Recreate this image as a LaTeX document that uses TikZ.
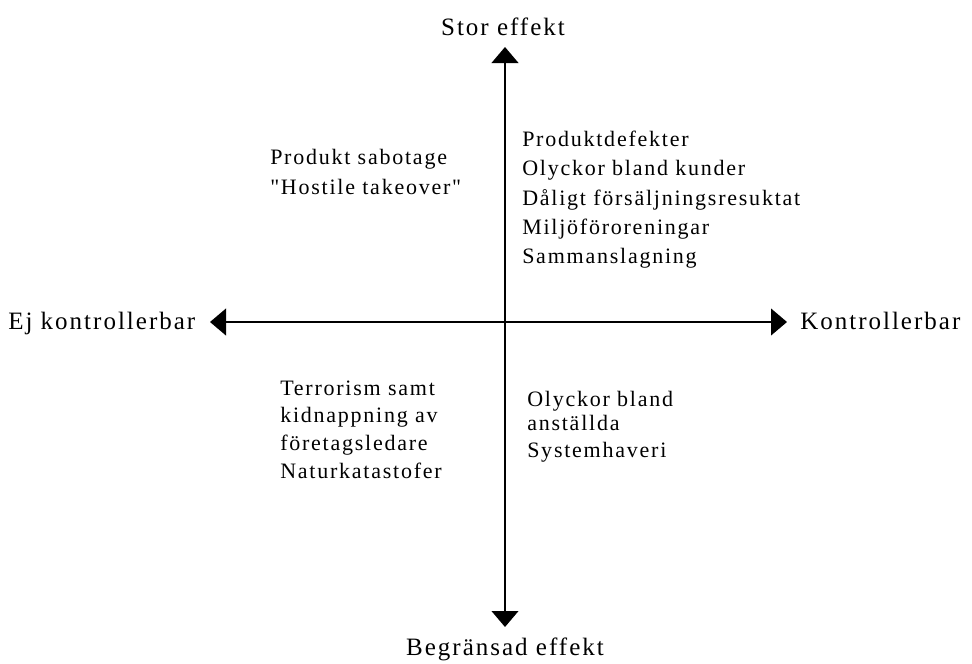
\documentclass[tikz,border=0pt]{standalone}
\usepackage{fontspec}
\setmainfont{Liberation Serif}
\newfontfamily\axfont[LetterSpace=8]{Liberation Serif}
\newfontfamily\bdfont[LetterSpace=8]{Liberation Serif}
\usetikzlibrary{arrows.meta}
\begin{document}
\begin{tikzpicture}[x=0.75pt,y=-0.75pt,
  axislabel/.style={font=\axfont\fontsize{18.75pt}{22pt}\selectfont, inner sep=0pt},
  itemtext/.style={font=\bdfont\fontsize{16.5pt}{20pt}\selectfont, inner sep=0pt, anchor=base west},
  axisline/.style={line width=1.5pt, {Triangle[length=12pt,width=20pt]}-{Triangle[length=12pt,width=20pt]}}]
\useasboundingbox (0,0) rectangle (972,664);
% axes
\coordinate (N) at (505,47);
\coordinate (S) at (505,627);
\coordinate (W) at (210,322);
\coordinate (E) at (787,322);
\draw[axisline] (W) -- (E);
\draw[axisline] (S) -- (N);
% axis labels
\node[axislabel, anchor=base] (lblN) at (503,35) {Stor effekt};
\node[axislabel, anchor=base] (lblS) at (505,655) {Begränsad effekt};
\node[axislabel, anchor=base west] (lblW) at (8,329) {Ej kontrollerbar};
\node[axislabel, anchor=base west] (lblE) at (800,329) {Kontrollerbar};
% top right
\node[itemtext] (tr1) at (522,146) {Produktdefekter};
\node[itemtext] (tr2) at (522,175) {Olyckor bland kunder};
\node[itemtext] (tr3) at (522,205) {Dåligt försäljningsresuktat};
\node[itemtext] (tr4) at (522,234) {Miljöföroreningar};
\node[itemtext] (tr5) at (522,263) {Sammanslagning};
% top left
\node[itemtext] (tl1) at (270,164) {Produkt sabotage};
\node[itemtext] (tl2) at (270,194) {"Hostile takeover"};
% bottom left
\node[itemtext] (bl1) at (280,395) {Terrorism samt};
\node[itemtext] (bl2) at (280,422) {kidnappning av};
\node[itemtext] (bl3) at (280,450) {företagsledare};
\node[itemtext] (bl4) at (280,478) {Naturkatastofer};
% bottom right
\node[itemtext] (br1) at (527,406) {Olyckor bland};
\node[itemtext] (br2) at (527,430) {anställda};
\node[itemtext] (br3) at (527,457) {Systemhaveri};
\end{tikzpicture}
\end{document}
